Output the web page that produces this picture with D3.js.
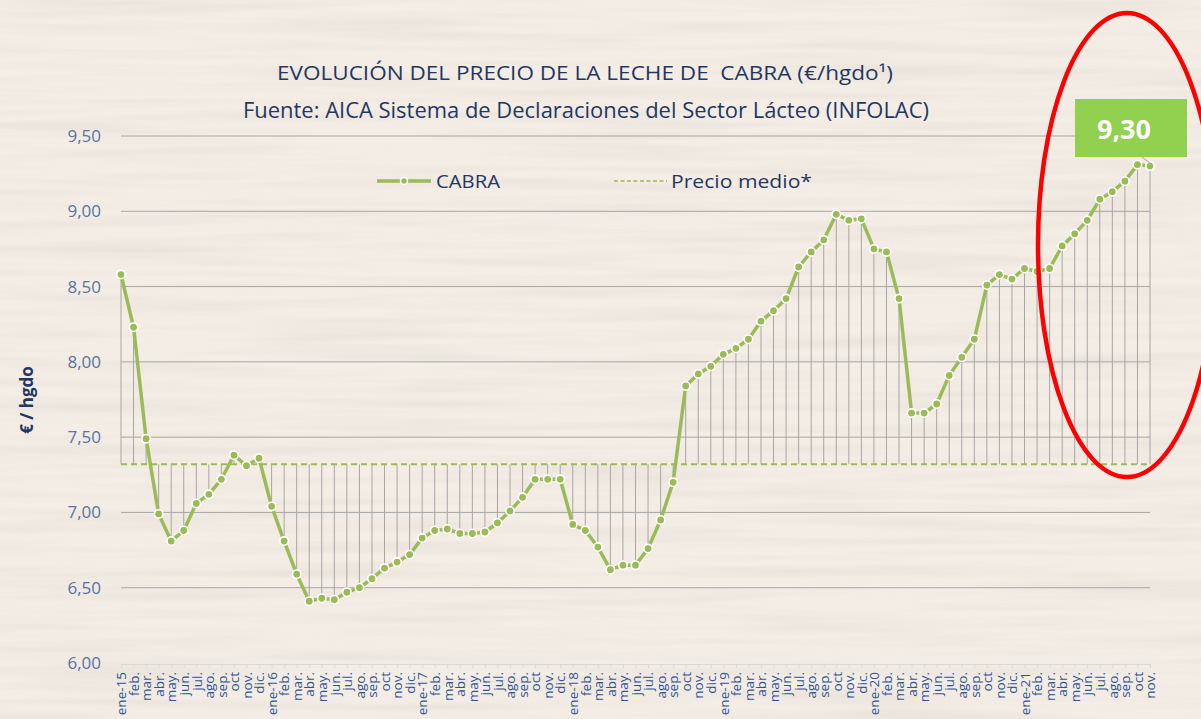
<!DOCTYPE html>
<html><head><meta charset="utf-8">
<script src="https://cdn.jsdelivr.net/npm/d3@7"></script>
<style>html,body{margin:0;padding:0;background:#f3ebe3;}svg{display:block;}</style>
</head><body>
<svg id="c" width="1201" height="719"></svg>
<script>
const monthNames = ["ene","feb.","mar.","abr.","may.","jun.","jul.","ago.","sep.","oct","nov.","dic."];
const years = ["15","16","17","18","19","20","21"];
const categories = [];
years.forEach(y => monthNames.forEach((m, i) => { if (categories.length < 83) categories.push(i === 0 ? "ene-" + y : m); }));

const cabra = [
  8.58, 8.23, 7.49, 6.99, 6.81, 6.88, 7.06, 7.12, 7.22, 7.38, 7.31, 7.36,
  7.04, 6.81, 6.59, 6.41, 6.43, 6.42, 6.47, 6.50, 6.56, 6.63, 6.67, 6.72,
  6.83, 6.88, 6.89, 6.86, 6.86, 6.87, 6.93, 7.01, 7.10, 7.22, 7.22, 7.22,
  6.92, 6.88, 6.77, 6.62, 6.65, 6.65, 6.76, 6.95, 7.20, 7.84, 7.92, 7.97,
  8.05, 8.09, 8.15, 8.27, 8.34, 8.42, 8.63, 8.73, 8.81, 8.98, 8.94, 8.95,
  8.75, 8.73, 8.42, 7.66, 7.66, 7.72, 7.91, 8.03, 8.15, 8.51, 8.58, 8.55,
  8.62, 8.60, 8.62, 8.77, 8.85, 8.94, 9.08, 9.13, 9.20, 9.31, 9.30
];
const precioMedio = 7.32;
const yTicks = [6.0, 6.5, 7.0, 7.5, 8.0, 8.5, 9.0, 9.5];
const titleText = "EVOLUCIÓN DEL PRECIO DE LA LECHE DE  CABRA (€/hgdo¹)";
const subtitleText = "Fuente: AICA Sistema de Declaraciones del Sector Lácteo (INFOLAC)";
const calloutText = "9,30";

const svg = d3.select("#c");
const W = 1201, H = 719;
const green = "#9bbb59", grid = "#a6a6a6", navy = "#1f3864";

// background with subtle wood-like streaks
const defs = svg.append("defs");
const f = defs.append("filter").attr("id", "wood").attr("x", 0).attr("y", 0).attr("width", "100%").attr("height", "100%");
f.append("feTurbulence").attr("type", "fractalNoise").attr("baseFrequency", "0.004 0.09").attr("numOctaves", 3).attr("seed", 4).attr("result", "n");
f.append("feColorMatrix").attr("in", "n").attr("type", "matrix")
  .attr("values", "0 0 0 0 0.55  0 0 0 0 0.50  0 0 0 0 0.45  0 0 0 -0.9 0.55");
svg.append("rect").attr("width", W).attr("height", H).attr("fill", "#f4ede5");
svg.append("rect").attr("width", W).attr("height", H).attr("filter", "url(#wood)").attr("opacity", 0.4);

const x = d3.scalePoint().domain(d3.range(categories.length)).range([121, 1150]);
const y = d3.scaleLinear().domain([6, 9.5]).range([663, 136]);
const loc = d3.formatLocale({decimal: ",", thousands: ".", grouping: [3], currency: ["", "€"]});
const fmt = loc.format(".2f");

// gridlines
svg.append("g").selectAll("line").data(yTicks.filter(d => d > 6)).join("line")
  .attr("x1", 121).attr("x2", 1150).attr("y1", d => y(d)).attr("y2", d => y(d))
  .attr("stroke", grid).attr("stroke-width", 1);

// y axis labels
const ya = svg.append("g").attr("transform", "translate(121,0)")
  .call(d3.axisLeft(y).tickValues(yTicks).tickFormat(fmt).tickSize(0).tickPadding(20));
ya.select(".domain").remove();
ya.selectAll("text").attr("font-family", "Open Sans, sans-serif").attr("font-size", 17).attr("fill", "#5a73a0");

// x axis
const xa = svg.append("g").attr("transform", "translate(0,664)")
  .call(d3.axisBottom(x).tickFormat(i => categories[i]).tickSize(4).tickPadding(3));
xa.select(".domain").attr("stroke", "#d9d9d9");
xa.selectAll(".tick line").attr("stroke", "#d9d9d9");
xa.selectAll("text").attr("font-family", "Open Sans, sans-serif").attr("font-size", 13.5).attr("fill", "#2f5597")
  .attr("transform", "rotate(-90)").attr("text-anchor", "end").attr("dy", "0.35em").attr("x", -8).attr("y", 0);

// drop lines
svg.append("g").selectAll("line").data(cabra).join("line")
  .attr("x1", (d, i) => x(i)).attr("x2", (d, i) => x(i))
  .attr("y1", d => y(d)).attr("y2", y(precioMedio))
  .attr("stroke", grid).attr("stroke-width", 1);

// mean line
svg.append("line").attr("x1", 121).attr("x2", 1150).attr("y1", y(precioMedio)).attr("y2", y(precioMedio))
  .attr("stroke", green).attr("stroke-width", 2).attr("stroke-dasharray", "6,4");

// series line
svg.append("path").datum(cabra)
  .attr("d", d3.line().x((d, i) => x(i)).y(d => y(d)))
  .attr("fill", "none").attr("stroke", green).attr("stroke-width", 3.5).attr("stroke-linejoin", "round");
svg.append("g").selectAll("circle").data(cabra).join("circle")
  .attr("cx", (d, i) => x(i)).attr("cy", d => y(d)).attr("r", 4.2)
  .attr("fill", green).attr("stroke", "#ffffff").attr("stroke-width", 1.6);

// y axis title
svg.append("text").attr("transform", "translate(33,400) rotate(-90)").attr("text-anchor", "middle")
  .attr("font-family", "Open Sans, sans-serif").attr("font-weight", "bold").attr("font-size", 17).attr("fill", navy)
  .text("€ / hgdo");

// titles
svg.append("text").attr("x", 277).attr("y", 80).attr("textLength", 616).attr("lengthAdjust", "spacingAndGlyphs")
  .style("white-space", "pre").attr("xml:space", "preserve")
  .attr("font-family", "Open Sans, sans-serif").attr("font-size", 20).attr("fill", navy).text(titleText);
svg.append("text").attr("x", 243).attr("y", 118).attr("textLength", 686).attr("lengthAdjust", "spacingAndGlyphs")
  .attr("font-family", "Open Sans, sans-serif").attr("font-size", 21).attr("fill", navy).text(subtitleText);

// legend
const lg = svg.append("g");
lg.append("line").attr("x1", 377).attr("x2", 431).attr("y1", 181).attr("y2", 181).attr("stroke", green).attr("stroke-width", 3.5);
lg.append("circle").attr("cx", 404).attr("cy", 181).attr("r", 3.5).attr("fill", green).attr("stroke", "#fff").attr("stroke-width", 1.5);
lg.append("text").attr("x", 436).attr("y", 188).attr("textLength", 64).attr("lengthAdjust", "spacingAndGlyphs")
  .attr("font-family", "Open Sans, sans-serif").attr("font-size", 19).attr("fill", navy).text("CABRA");
lg.append("line").attr("x1", 614).attr("x2", 667).attr("y1", 181).attr("y2", 181).attr("stroke", green).attr("stroke-width", 1.5).attr("stroke-dasharray", "4,2.5");
lg.append("text").attr("x", 671).attr("y", 188).attr("textLength", 141).attr("lengthAdjust", "spacingAndGlyphs")
  .attr("font-family", "Open Sans, sans-serif").attr("font-size", 19).attr("fill", navy).text("Precio medio*");

// callout
const last = cabra.length - 1;
svg.append("line").attr("x1", 1142).attr("y1", 157).attr("x2", x(last)).attr("y2", y(cabra[last]) - 3)
  .attr("stroke", grid).attr("stroke-width", 1);
svg.append("rect").attr("x", 1075).attr("y", 99).attr("width", 112).attr("height", 58).attr("fill", "#92d050");
svg.append("text").attr("x", 1124).attr("y", 139).attr("text-anchor", "middle")
  .attr("font-family", "Open Sans, sans-serif").attr("font-weight", "bold").attr("font-size", 27).attr("fill", "#ffffff")
  .text(calloutText);

// red ellipse
svg.append("ellipse").attr("cx", 1127).attr("cy", 245).attr("rx", 89).attr("ry", 232)
  .attr("fill", "none").attr("stroke", "#ff0000").attr("stroke-width", 4.5);
</script>
</body></html>
